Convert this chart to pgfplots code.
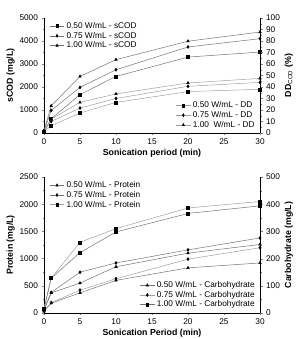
\documentclass[border=0pt]{standalone}
\usepackage{fontspec}
\setmainfont{Liberation Sans}
\usepackage{pgfplots}
\pgfplotsset{compat=1.18}
\definecolor{lnA}{gray}{0.45}
\definecolor{lnB}{gray}{0.62}
\pgfplotsset{
  basestyle/.style={
    scale only axis, width=216pt,
    xmin=0, xmax=30, xtick={0,5,...,30},
    tick label style={font=\fontsize{8.3}{9}\selectfont},
    label style={font=\bfseries\fontsize{8.8}{10}\selectfont},
    /pgf/number format/assume math mode=true,
    /pgf/number format/1000 sep={},
    tick align=outside,
    major tick length=2.5pt, minor tick length=1.5pt,
    axis line style={black, line width=0.6pt},
    legend style={draw=none, fill=none, font=\fontsize{8.3}{9}\selectfont,
      row sep=-1.8pt, inner sep=1pt},
    legend image post style={xscale=0.85},
    legend cell align=left,
    every axis plot/.append style={line width=0.5pt, mark size=1.5pt, mark options={solid, fill=black, draw=black}},
  },
  leftax/.style={basestyle, axis x line*=bottom, axis y line*=left, minor y tick num=1,
     xlabel style={yshift=3pt}, ylabel style={yshift=-2pt}},
  rightax/.style={basestyle, axis x line=none, axis y line*=right, minor y tick num=1,
     ylabel style={yshift=2pt}},
}
\begin{document}
\begin{tikzpicture}
\useasboundingbox (0pt,0pt) rectangle (298pt,339pt);
% ---------- top panel ----------
\begin{axis}[leftax, at={(44pt,206pt)}, anchor=south west, height=115pt,
  ymin=0, ymax=5000, ytick={0,1000,...,5000},
  xlabel={Sonication period (min)}, ylabel={sCOD (mg/L)},
  legend style={at={(0.02,0.99)}, anchor=north west}]
\addplot[color=lnA, mark=square*] coordinates {(0,50) (1,620) (5,1670) (10,2460) (20,3300) (30,3520)};
\addlegendentry{0.50 W/mL - sCOD}
\addplot[color=lnA, mark=diamond*] coordinates {(0,80) (1,980) (5,1985) (10,2750) (20,3740) (30,4100)};
\addlegendentry{0.75 W/mL - sCOD}
\addplot[color=lnA, mark=triangle*] coordinates {(0,100) (1,1180) (5,2460) (10,3190) (20,3990) (30,4390)};
\addlegendentry{1.00 W/mL - sCOD}
\end{axis}
\begin{axis}[rightax, at={(44pt,206pt)}, anchor=south west, height=115pt,
  ymin=0, ymax=100, ytick={0,10,...,100},
  ylabel={DD$_{\mathrm{COD}}$ (\%)},
  legend style={at={(0.99,0.01)}, anchor=south east}]
\addplot[color=lnB, mark=square*] coordinates {(0,1) (1,6.4) (5,17.4) (10,26.6) (20,36) (30,38)};
\addlegendentry{0.50 W/mL - DD}
\addplot[color=lnB, mark=diamond*] coordinates {(0,1.5) (1,10) (5,21.7) (10,30) (20,40.6) (30,44)};
\addlegendentry{0.75 W/mL - DD}
\addplot[color=lnB, mark=triangle*] coordinates {(0,2) (1,12) (5,26.6) (10,34) (20,43.5) (30,47.5)};
\addlegendentry{1.00 \ W/mL - DD}
\end{axis}
% ---------- bottom panel ----------
\begin{axis}[leftax, at={(44pt,26pt)}, anchor=south west, height=136pt,
  ymin=0, ymax=2500, ytick={0,500,...,2500},
  xlabel={Sonication Period (min)}, ylabel={Protein (mg/L)},
  legend style={at={(0.02,0.99)}, anchor=north west}]
\addplot[color=lnA, mark=triangle*] coordinates {(0,50) (1,370) (5,550) (10,850) (20,1100) (30,1260)};
\addlegendentry{0.50 W/mL - Protein}
\addplot[color=lnA, mark=diamond*] coordinates {(0,60) (1,380) (5,750) (10,920) (20,1160) (30,1380)};
\addlegendentry{0.75 W/mL - Protein}
\addplot[color=lnB, mark=square*] coordinates {(0,80) (1,640) (5,1300) (10,1550) (20,1930) (30,2050)};
\addlegendentry{1.00 W/mL - Protein}
\end{axis}
\begin{axis}[rightax, at={(44pt,26pt)}, anchor=south west, height=136pt,
  ymin=0, ymax=500, ytick={0,100,...,500},
  ylabel={Carbohydrate (mg/L)},
  legend style={at={(0.99,0.01)}, anchor=south east}]
\addplot[color=lnA, mark=triangle*] coordinates {(0,6) (1,36) (5,74) (10,120) (20,166) (30,184)};
\addlegendentry{0.50 W/mL - Carbohydrate}
\addplot[color=lnB, mark=diamond*] coordinates {(0,8) (1,38) (5,84) (10,126) (20,198) (30,240)};
\addlegendentry{0.75 W/mL - Carbohydrate}
\addplot[color=lnA, mark=square*] coordinates {(0,16) (1,128) (5,222) (10,298) (20,366) (30,394)};
\addlegendentry{1.00 W/mL - Carbohydrate}
\end{axis}
\end{tikzpicture}
\end{document}
